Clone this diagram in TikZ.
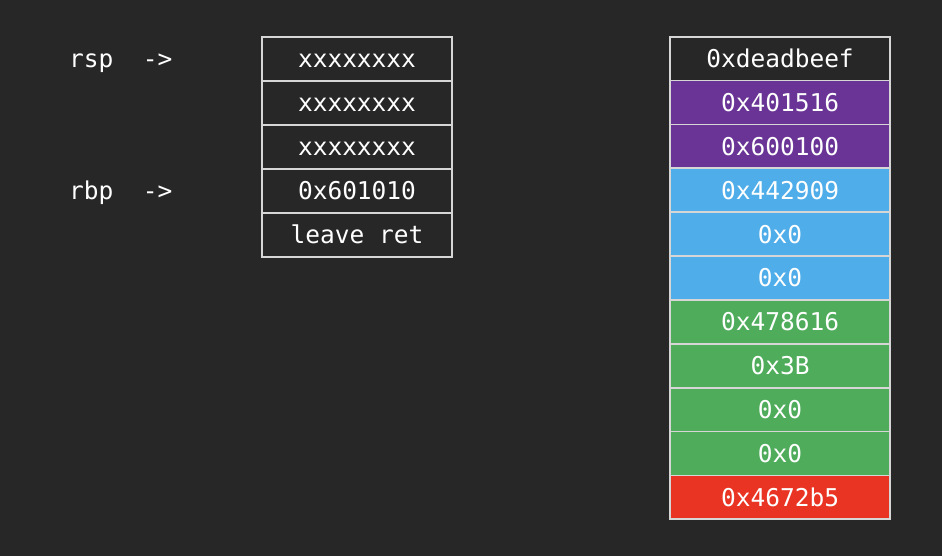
\documentclass[tikz,border=0pt]{standalone}
\usepackage{fontspec}
\setmonofont{DejaVu Sans Mono}
\definecolor{bg}{HTML}{272727}
\definecolor{edge}{HTML}{D6D6D6}
\definecolor{cpurple}{HTML}{693496}
\definecolor{cblue}{HTML}{4FADE9}
\definecolor{cgreen}{HTML}{4EAC5B}
\definecolor{cred}{HTML}{E93323}
\tikzset{
  cell/.style={draw=edge, line width=1.7pt, rectangle, inner sep=0pt,
    text=white, font=\ttfamily\fontsize{24.5}{26}\selectfont,
    text height=18pt, text depth=0pt},
  lcell/.style={cell, minimum width=189.4pt, minimum height=44pt, fill=bg},
  rcell/.style={cell, minimum width=220pt, minimum height=43.87pt},
  lab/.style={text=white, font=\ttfamily\fontsize{24.5}{26}\selectfont, inner sep=0pt, anchor=base west}
}
\begin{document}
\begin{tikzpicture}[x=1pt,y=-1pt]
\fill[bg] (0,0) rectangle (942,556);
\useasboundingbox (0,0) rectangle (942,556);
% left stack
\node[lcell] (l1) at (357,58.7) {xxxxxxxx};
\node[lcell] (l2) at (357,102.7) {xxxxxxxx};
\node[lcell] (l3) at (357,146.7) {xxxxxxxx};
\node[lcell] (l4) at (357,190.7) {0x601010};
\node[lcell] (l5) at (357,234.7) {leave ret};
% labels
\node[lab] (rsp) at (69,67.7) {rsp\ \ ->};
\node[lab] (rbp) at (69,199.7) {rbp\ \ ->};
% right stack
\node[rcell, fill=bg]      (r1)  at (780,58.64) {0xdeadbeef};
\node[rcell, fill=cpurple] (r2)  at (780,102.51) {0x401516};
\node[rcell, fill=cpurple] (r3)  at (780,146.38) {0x600100};
\node[rcell, fill=cblue]   (r4)  at (780,190.25) {0x442909};
\node[rcell, fill=cblue]   (r5)  at (780,234.12) {0x0};
\node[rcell, fill=cblue]   (r6)  at (780,277.99) {0x0};
\node[rcell, fill=cgreen]  (r7)  at (780,321.86) {0x478616};
\node[rcell, fill=cgreen]  (r8)  at (780,365.73) {0x3B};
\node[rcell, fill=cgreen]  (r9)  at (780,409.60) {0x0};
\node[rcell, fill=cgreen]  (r10) at (780,453.47) {0x0};
\node[rcell, fill=cred]    (r11) at (780,497.34) {0x4672b5};
\end{tikzpicture}
\end{document}
